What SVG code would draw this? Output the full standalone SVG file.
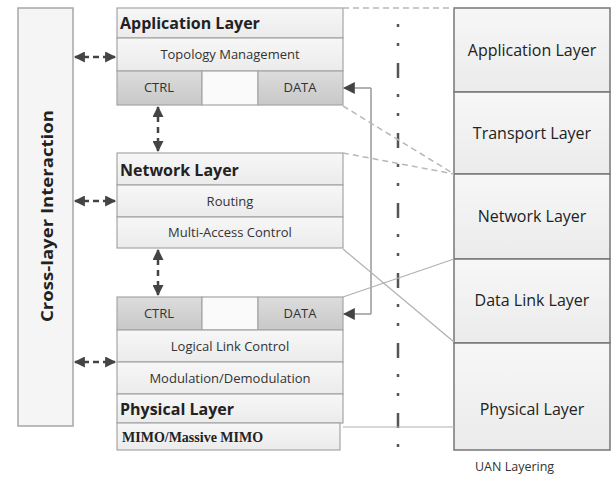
<svg xmlns="http://www.w3.org/2000/svg" width="614" height="477" viewBox="0 0 614 477">
<defs>
<linearGradient id="g1" x1="0" y1="0" x2="0" y2="1"><stop offset="0" stop-color="#f7f7f7"/><stop offset="1" stop-color="#ebebeb"/></linearGradient>
<linearGradient id="g2" x1="0" y1="0" x2="0" y2="1"><stop offset="0" stop-color="#dcdcdc"/><stop offset="1" stop-color="#c8c8c8"/></linearGradient>
<marker id="ah" viewBox="0 0 10 10" refX="9" refY="5" markerWidth="13" markerHeight="11" markerUnits="userSpaceOnUse" orient="auto-start-reverse"><path d="M0,0 L10,5 L0,10 z" fill="#444"/></marker>
<marker id="ah2" viewBox="0 0 10 10" refX="9" refY="5" markerWidth="12" markerHeight="12" markerUnits="userSpaceOnUse" orient="auto-start-reverse"><path d="M0,0 L10,5 L0,10 z" fill="#444"/></marker>
</defs>
<style>
.row{fill:url(#g1);stroke:#a6a6a6;stroke-width:1.2}
.cell{fill:url(#g2);stroke:#a6a6a6;stroke-width:1.2}
.blank{fill:#fafafa;stroke:#a6a6a6;stroke-width:1.2}
.hd{font-family:"Open Sans","Liberation Sans",sans-serif;font-weight:bold;font-size:16px;fill:#222}
.tx{font-family:"Open Sans","Liberation Sans",sans-serif;font-size:13px;fill:#333;text-anchor:middle}
.rt{font-family:"Open Sans","Liberation Sans",sans-serif;font-size:16px;fill:#222;text-anchor:middle}
.dd{stroke:#444;stroke-width:2.5;fill:none}
.ddh{stroke-dasharray:14 4 6 4 14}
.ddv{stroke-dasharray:15 5 6 5 16}
.map{stroke:#b0b0b0;stroke-width:1.2;fill:none}
.mapd{stroke:#b8b8b8;stroke-width:1.5;stroke-dasharray:6 4;fill:none}
</style>
<rect width="614" height="477" fill="#ffffff"/>

<g id="cross-layer">
<rect x="18" y="8" width="55" height="418" fill="#f5f5f5" stroke="#a6a6a6" stroke-width="1.5"/>
<text class="hd" transform="translate(53,216) rotate(-90)" text-anchor="middle" textLength="212" lengthAdjust="spacingAndGlyphs">Cross-layer Interaction</text>
</g>

<g id="application-layer">
<rect class="row" x="117" y="8" width="226" height="30"/>
<text class="hd" x="120" y="29">Application Layer</text>
<rect class="row" x="117" y="38" width="226" height="33"/>
<text class="tx" x="230" y="59">Topology Management</text>
<rect class="cell" x="117" y="71" width="85" height="34"/>
<rect class="blank" x="202" y="71" width="56" height="34"/>
<rect class="cell" x="258" y="71" width="85" height="34"/>
<text class="tx" x="159" y="92">CTRL</text>
<text class="tx" x="300" y="92">DATA</text>
</g>

<g id="network-layer">
<rect class="row" x="117" y="153" width="226" height="32"/>
<text class="hd" x="120" y="176">Network Layer</text>
<rect class="row" x="117" y="185" width="226" height="32"/>
<text class="tx" x="230" y="206">Routing</text>
<rect class="row" x="117" y="217" width="226" height="31"/>
<text class="tx" x="230" y="237">Multi-Access Control</text>
</g>

<g id="link-physical-layer">
<rect class="cell" x="117" y="297" width="85" height="33"/>
<rect class="blank" x="202" y="297" width="56" height="33"/>
<rect class="cell" x="258" y="297" width="85" height="33"/>
<text class="tx" x="159" y="318">CTRL</text>
<text class="tx" x="300" y="318">DATA</text>
<rect class="row" x="117" y="330" width="226" height="32"/>
<text class="tx" x="230" y="351">Logical Link Control</text>
<rect class="row" x="117" y="362" width="226" height="32"/>
<text class="tx" x="230" y="383">Modulation/Demodulation</text>
<rect class="row" x="117" y="394" width="226" height="29"/>
<text class="hd" x="120" y="415">Physical Layer</text>
<rect class="row" x="117" y="423" width="223" height="27"/>
<text x="122" y="442" font-family="Liberation Serif,serif" font-weight="bold" font-size="14" fill="#222">MIMO/Massive MIMO</text>
</g>

<g id="uan-layering">
<rect x="454" y="8" width="156" height="84" fill="url(#g1)" stroke="#777" stroke-width="1.5"/>
<text class="rt" x="532" y="56">Application Layer</text>
<rect x="454" y="92" width="156" height="82" fill="url(#g1)" stroke="#777" stroke-width="1.5"/>
<text class="rt" x="532" y="139">Transport Layer</text>
<rect x="454" y="174" width="156" height="85" fill="url(#g1)" stroke="#777" stroke-width="1.5"/>
<text class="rt" x="532" y="222">Network Layer</text>
<rect x="454" y="259" width="156" height="84" fill="url(#g1)" stroke="#777" stroke-width="1.5"/>
<text class="rt" x="532" y="306">Data Link Layer</text>
<rect x="454" y="343" width="156" height="107" fill="url(#g1)" stroke="#777" stroke-width="1.5"/>
<text class="rt" x="532" y="415">Physical Layer</text>
<text x="475" y="471" font-family="Open Sans,Liberation Sans,sans-serif" font-size="12.5" fill="#333">UAN Layering</text>
</g>

<g id="connectors">
<line x1="398" y1="8" x2="398" y2="452" stroke="#555" stroke-width="2.5" stroke-dasharray="15 16 3 16 3 17" stroke-dashoffset="15"/>
<line class="dd ddh" x1="75" y1="57" x2="115" y2="57" marker-start="url(#ah)" marker-end="url(#ah)"/>
<line class="dd ddh" x1="75" y1="201" x2="115" y2="201" marker-start="url(#ah)" marker-end="url(#ah)"/>
<line class="dd ddh" x1="75" y1="362" x2="115" y2="362" marker-start="url(#ah)" marker-end="url(#ah)"/>
<line class="dd ddv" x1="158" y1="107" x2="158" y2="151" marker-start="url(#ah)" marker-end="url(#ah)"/>
<line class="dd ddv" x1="158" y1="250" x2="158" y2="295" marker-start="url(#ah)" marker-end="url(#ah)"/>
<polyline points="371,88 371,314" stroke="#999" stroke-width="1.5" fill="none"/>
<line x1="371" y1="88" x2="344" y2="88" stroke="#999" stroke-width="1.5" marker-end="url(#ah2)"/>
<line x1="371" y1="314" x2="344" y2="314" stroke="#999" stroke-width="1.5" marker-end="url(#ah2)"/>
<line class="mapd" x1="343" y1="8" x2="454" y2="8"/>
<line class="mapd" x1="343" y1="106" x2="454" y2="174"/>
<line class="mapd" x1="343" y1="153" x2="454" y2="174"/>
<line class="map" x1="343" y1="249" x2="454" y2="342"/>
<line class="map" x1="343" y1="297" x2="454" y2="259"/>
<line class="map" x1="343" y1="427" x2="454" y2="427"/>
</g>
</svg>
